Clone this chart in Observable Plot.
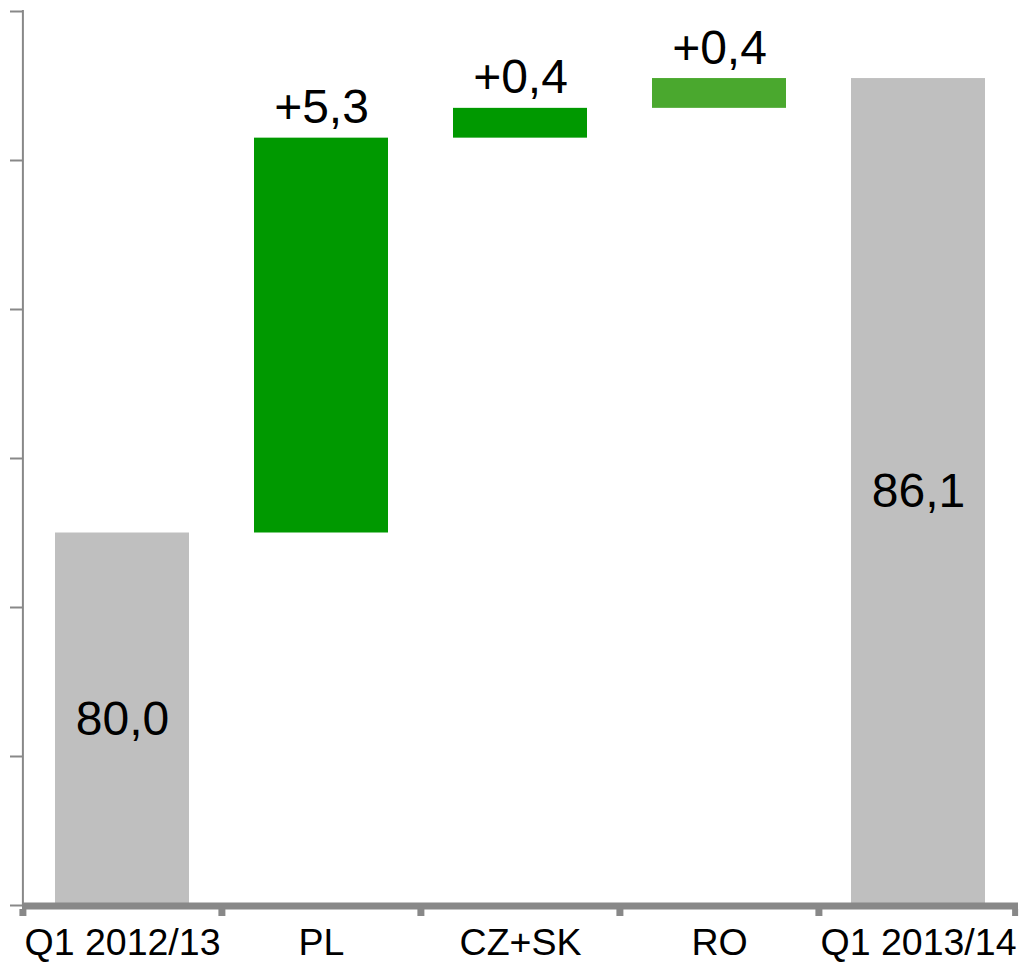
<!DOCTYPE html>
<html>
<head>
<meta charset="utf-8">
<script src="https://cdn.jsdelivr.net/npm/d3@7"></script>
<script src="https://cdn.jsdelivr.net/npm/@observablehq/plot@0.6"></script>
<style>
  html, body { margin: 0; padding: 0; background: #fff; }
  #chart svg { display: block; }
</style>
</head>
<body>
<div id="chart"></div>
<script>
// ---- data ----
const categories = ["Q1 2012/13", "PL", "CZ+SK", "RO", "Q1 2013/14"];
const kinds = ["total", "delta", "delta", "delta", "total"];
const values = [80.0, 5.3, 0.4, 0.4, 86.1];
const labels = ["80,0", "+5,3", "+0,4", "+0,4", "86,1"];
const colors = ["#bfbfbf", "#009900", "#009900", "#4aa82e", "#bfbfbf"];
const yMin = 75, yMax = 87;
const yTicks = [75, 77, 79, 81, 83, 85, 87];

// ---- layout ----
const W = 1019, H = 965, ML = 22, MR = 1, MT = 11, MB = 60;
const step = (W - ML - MR) / categories.length;
const axisColor = "#888888";

let running = 0;
const rows = categories.map((c, i) => {
  let y1, y2;
  if (kinds[i] === "total") { y1 = yMin; y2 = values[i]; running = values[i]; }
  else { y1 = running; y2 = running + values[i]; running = y2; }
  return {category: c, y1, y2, label: labels[i], color: colors[i], kind: kinds[i]};
});

const chart = Plot.plot({
  width: W, height: H,
  marginLeft: ML, marginRight: MR, marginTop: MT, marginBottom: MB,
  style: {fontFamily: "'Liberation Sans', Arial, sans-serif", background: "#fff", color: "#000", overflow: "visible"},
  x: {domain: categories, paddingInner: 0.327, paddingOuter: 0.1635, label: null},
  y: {domain: [yMin, yMax], label: null},
  color: {type: "identity"},
  marks: [
    Plot.barY(rows, {x: "category", y1: "y1", y2: "y2", fill: "color", inset: 0}),
    // y axis line and ticks
    Plot.ruleX([categories[0]], {x: d => d, dx: -step / 2, stroke: axisColor, strokeWidth: 2, insetTop: -1}),
    Plot.axisY({ticks: yTicks, tickSize: 12, tickFormat: () => "", stroke: axisColor, strokeWidth: 2, label: null}),
    // x axis line
    Plot.ruleY([yMin], {stroke: axisColor, strokeWidth: 7, dy: 0.5}),
    // x boundary ticks
    Plot.ruleX(categories, {x: d => d, dx: -step / 2, y1: yMin, y2: yMin, insetTop: 4, insetBottom: -11, stroke: axisColor, strokeWidth: 7}),
    Plot.ruleX([categories[categories.length - 1]], {x: d => d, dx: step / 2 - 3, y1: yMin, y2: yMin, insetTop: 4, insetBottom: -11, stroke: axisColor, strokeWidth: 6}),
    Plot.axisX({tickSize: 0, tickPadding: 23, fontSize: 37.5, label: null, fill: "#000"}),
    // value labels
    Plot.text(rows.filter(d => d.kind === "total"), {x: "category", y: d => (d.y1 + d.y2) / 2, text: "label", fontSize: 48, lineAnchor: "middle", fill: "#000"}),
    Plot.text(rows.filter(d => d.kind === "delta"), {x: "category", y: "y2", text: "label", fontSize: 48, lineAnchor: "bottom", dy: -15, fill: "#000"})
  ]
});
document.getElementById("chart").appendChild(chart);
</script>
</body>
</html>
